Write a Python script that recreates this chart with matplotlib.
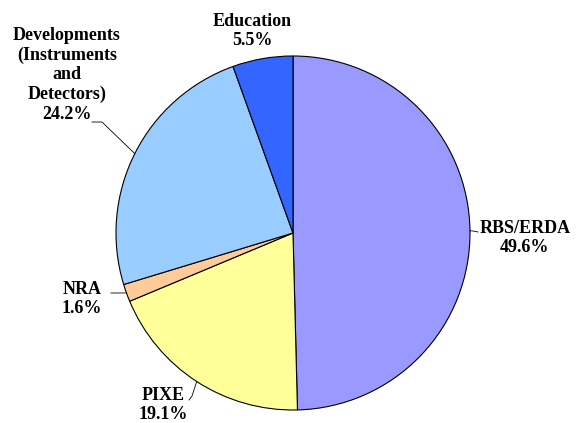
import numpy as np
import matplotlib
matplotlib.use("Agg")
import matplotlib.pyplot as plt

labels = ["RBS/ERDA", "PIXE", "NRA", "Developments\n(Instruments\nand\nDetectors)", "Education"]
shares = [49.6, 19.1, 1.6, 24.2, 5.5]
colors = ["#9999FF", "#FFFF99", "#FFCC99", "#99CCFF", "#3366FF"]

# pixel layout of the reference picture
W, H = 578, 423
cx, cy, R = 293, 233, 177

def px(x, y):
    return (x - cx) / R, (cy - y) / R

# label centre (pixels), leader line points (pixels, from label side) or None
label_pos = [(525, 238), (163, 405), (82, 299), (67, 75), (252, 31)]
leaders = [[(478, 232), (473, 231)],
           [(189, 400), (192, 396)],
           [(111, 293), (117, 293)],
           [(92, 122), (102, 122)],
           None]

plt.rcParams['font.family'] = ['Liberation Serif', 'DejaVu Serif']

fig = plt.figure(figsize=(W / 100, H / 100), dpi=100)
ax = fig.add_axes([0, 0, 1, 1])
ax.pie(shares, colors=colors, startangle=90, counterclock=False, radius=1,
       wedgeprops=dict(edgecolor="black", linewidth=0.8))
ax.set_xlim(-cx / R, (W - cx) / R)
ax.set_ylim(-(H - cy) / R, cy / R)
ax.set_aspect("auto")
ax.axis("off")

cum = np.cumsum([0] + shares[:-1])
for i, (lab, val) in enumerate(zip(labels, shares)):
    x, y = px(*label_pos[i])
    ax.text(x, y, f"{lab}\n{val:.1f}%", ha="center", va="center",
            fontsize=13, fontweight="bold", linespacing=1.2)
    if leaders[i] is not None:
        mid = cum[i] + val / 2
        ang = np.deg2rad(90 - mid * 3.6)
        pts = [px(*p) for p in leaders[i]] + [(np.cos(ang), np.sin(ang))]
        xs, ys = zip(*pts)
        ax.plot(xs, ys, color="black", linewidth=0.6)

fig.savefig("out.png", dpi=100)
